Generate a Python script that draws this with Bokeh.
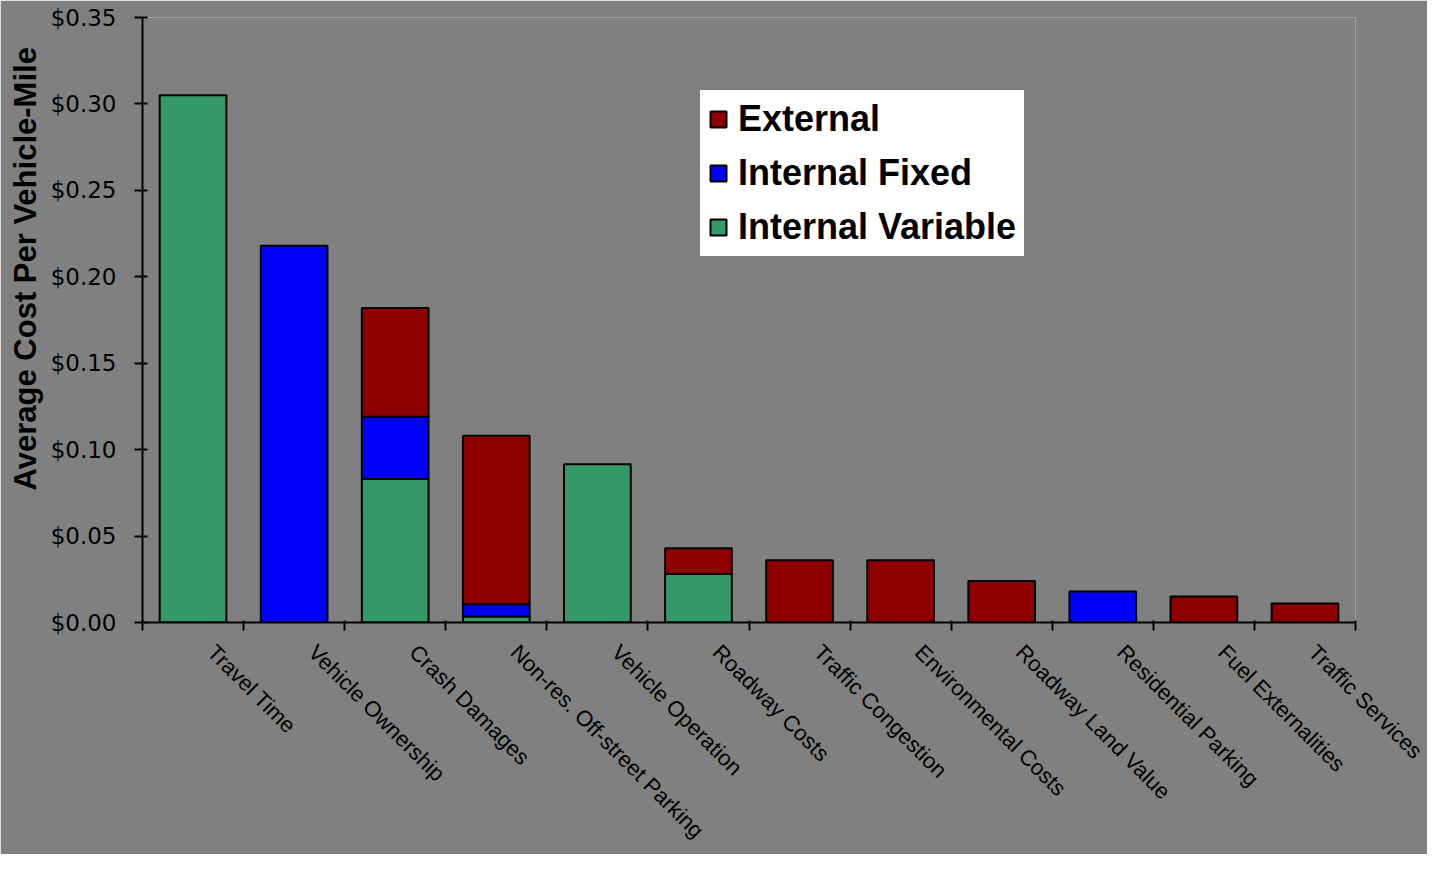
import math
from bokeh.plotting import figure
from bokeh.models import (Range1d, FixedTicker, NumeralTickFormatter, Legend,
                          LegendItem, Title, ColumnDataSource)
from bokeh.embed import file_html
from bokeh.resources import INLINE

categories = ["Travel Time", "Vehicle Ownership", "Crash Damages",
              "Non-res. Off-street Parking", "Vehicle Operation", "Roadway Costs",
              "Traffic Congestion", "Environmental Costs", "Roadway Land Value",
              "Residential Parking", "Fuel Externalities", "Traffic Services"]
internal_variable = [0.305, 0.0, 0.083, 0.0035, 0.0915, 0.028, 0.0, 0.0, 0.0, 0.0, 0.0, 0.0]
internal_fixed = [0.0, 0.218, 0.036, 0.007, 0.0, 0.0, 0.0, 0.0, 0.0, 0.018, 0.0, 0.0]
external = [0.0, 0.0, 0.063, 0.0975, 0.0, 0.015, 0.036, 0.036, 0.024, 0.0, 0.015, 0.011]
y_ticks = [0.0, 0.05, 0.10, 0.15, 0.20, 0.25, 0.30, 0.35]

series = [("Internal Variable", internal_variable, "#339966"),
          ("Internal Fixed", internal_fixed, "#0000FF"),
          ("External", external, "#8E0000")]

BG = "#808080"
n = len(categories)
centers = [i + 0.5 for i in range(n)]
label_pos = [c + 0.18 for c in centers]

p = figure(width=1427, height=854, output_backend="svg", toolbar_location=None,
           x_range=Range1d(0, n), y_range=Range1d(0, 0.35),
           background_fill_color=BG, border_fill_color=BG,
           min_border_left=141, min_border_right=72, min_border_top=17,
           min_border_bottom=232)
p.outline_line_color = None
p.grid.visible = False

renderers = {}
base = [0.0] * n
for name, vals, color in series:
    xs, bottoms, tops = [], [], []
    for i, v in enumerate(vals):
        if v > 0:
            xs.append(centers[i])
            bottoms.append(base[i])
            tops.append(base[i] + v)
        base[i] += v
    src = ColumnDataSource(dict(x=xs, bottom=bottoms, top=tops))
    r = p.vbar(x="x", bottom="bottom", top="top", width=0.66, source=src,
               fill_color=color, line_color="black", line_width=2)
    renderers[name] = r

# x axis
xa = p.xaxis[0]
xa.ticker = FixedTicker(ticks=label_pos, minor_ticks=list(range(n + 1)))
xa.major_label_overrides = {c: lab for c, lab in zip(label_pos, categories)}
xa.major_tick_line_color = None
xa.major_tick_in = 0
xa.major_tick_out = 0
xa.minor_tick_in = 2
xa.minor_tick_out = 8
xa.minor_tick_line_color = "black"
xa.minor_tick_line_width = 2
xa.axis_line_color = "black"
xa.axis_line_width = 2
xa.major_label_orientation = -math.pi / 4
xa.major_label_standoff = 18
xa.major_label_text_font = "Liberation Sans"
xa.major_label_text_font_size = "22px"
xa.major_label_text_color = "black"

# y axis
ya = p.yaxis[0]
ya.ticker = FixedTicker(ticks=y_ticks)
ya.formatter = NumeralTickFormatter(format="$0.00")
ya.major_tick_in = 5
ya.major_tick_out = 8
ya.major_tick_line_width = 2
ya.major_tick_line_color = "black"
ya.minor_tick_line_color = None
ya.axis_line_color = "black"
ya.axis_line_width = 2
ya.major_label_standoff = 18
ya.major_label_text_font = "DejaVu Sans"
ya.major_label_text_font_size = "23px"
ya.major_label_text_color = "black"

t = Title(text="Average Cost Per Vehicle-Mile", align="left", offset=132,
          text_font="Liberation Sans", text_font_size="31px",
          text_font_style="bold", text_color="black")
p.add_layout(t, "left")

legend = Legend(items=[LegendItem(label="External", renderers=[renderers["External"]]),
                       LegendItem(label="Internal Fixed", renderers=[renderers["Internal Fixed"]]),
                       LegendItem(label="Internal Variable", renderers=[renderers["Internal Variable"]])],
                location=(556, 364))
legend.label_text_font = "Liberation Sans"
legend.label_text_font_size = "36px"
legend.label_text_font_style = "bold"
legend.label_text_color = "black"
legend.glyph_width = 20
legend.glyph_height = 20
legend.label_height = 38
legend.label_standoff = 10
legend.spacing = 12
legend.padding = 8
legend.margin = 0
legend.border_line_color = "black"
legend.border_line_width = 2
legend.background_fill_color = "white"
legend.background_fill_alpha = 1.0
p.add_layout(legend, "center")

open("out.html", "w").write(file_html(p, INLINE))
